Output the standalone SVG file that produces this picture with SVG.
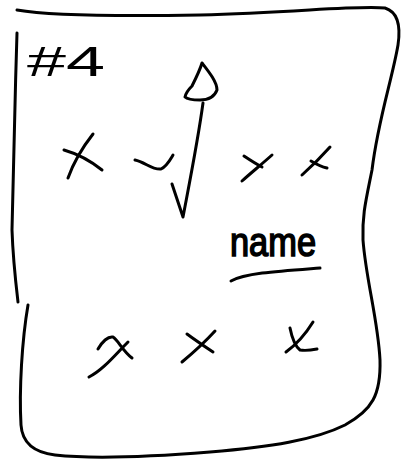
<svg xmlns="http://www.w3.org/2000/svg" width="409" height="462" viewBox="0 0 409 462">
<style>
.s{fill:none;stroke:#000;stroke-width:3;stroke-linecap:round;stroke-linejoin:round}
.t{font-family:"Liberation Sans","DejaVu Sans",sans-serif;fill:#000}
</style>
<rect width="409" height="462" fill="#fff"/>
<g id="frame">
<path class="s" d="M17,10 C40,14 80,17 200,15 C300,12 360,5 385,8 C398,12 401,25 398,45 C392,80 378,120 372,170 C366,200 362,215 363,240 C366,280 378,320 380,360 C381,395 372,410 345,425 C315,440 270,447 210,452 C160,456 100,460 55,455 C30,452 22,440 21,425 C19,390 22,340 28,305"/>
<path class="s" d="M17,33 C15,100 13,170 12,230 C13,260 16,285 18,302"/>
</g>
<g id="title"><text class="t" x="27" y="76" font-size="42" textLength="78" lengthAdjust="spacingAndGlyphs">#4</text></g>
<g id="arrow">
<path class="s" d="M203,103 C198,140 190,180 183,217 L172,184"/>
<path class="s" d="M202,63 C209,72 217,82 217,90 C214,98 206,100 200,100 C195,100 188,100 185,97 C186,92 190,88 192,86 C196,78 200,70 202,63 Z"/>
</g>
<g id="marks-top">
<path class="s" d="M93,134 C82,148 73,164 68,178 M64,150 C78,154 92,162 102,170"/>
<path class="s" d="M135,160 C145,162 152,170 161,169 C167,166 170,160 173,155"/>
<path class="s" d="M244,156 C250,160 256,164 262,167 M272,155 C262,164 252,172 242,181"/>
<path class="s" d="M330,147 C322,156 312,166 302,175 M311,161 C316,164 322,167 327,168"/>
</g>
<g id="name">
<text class="t" x="230" y="256" font-size="40" stroke="#000" stroke-width="1.6" textLength="86" lengthAdjust="spacingAndGlyphs">name</text>
<path class="s" d="M231,281 C245,273 280,271 320,268"/>
</g>
<g id="marks-bottom">
<path class="s" d="M98,349 C102,342 108,336 113,337 C118,340 122,350 132,358 M128,342 C115,355 103,370 89,377"/>
<path class="s" d="M215,331 C205,342 194,352 182,362 M187,334 C195,340 204,346 213,352"/>
<path class="s" d="M313,322 C305,335 297,344 286,352 M290,328 C292,338 295,346 300,350 C306,351 312,350 317,349"/>
</g>
</svg>
